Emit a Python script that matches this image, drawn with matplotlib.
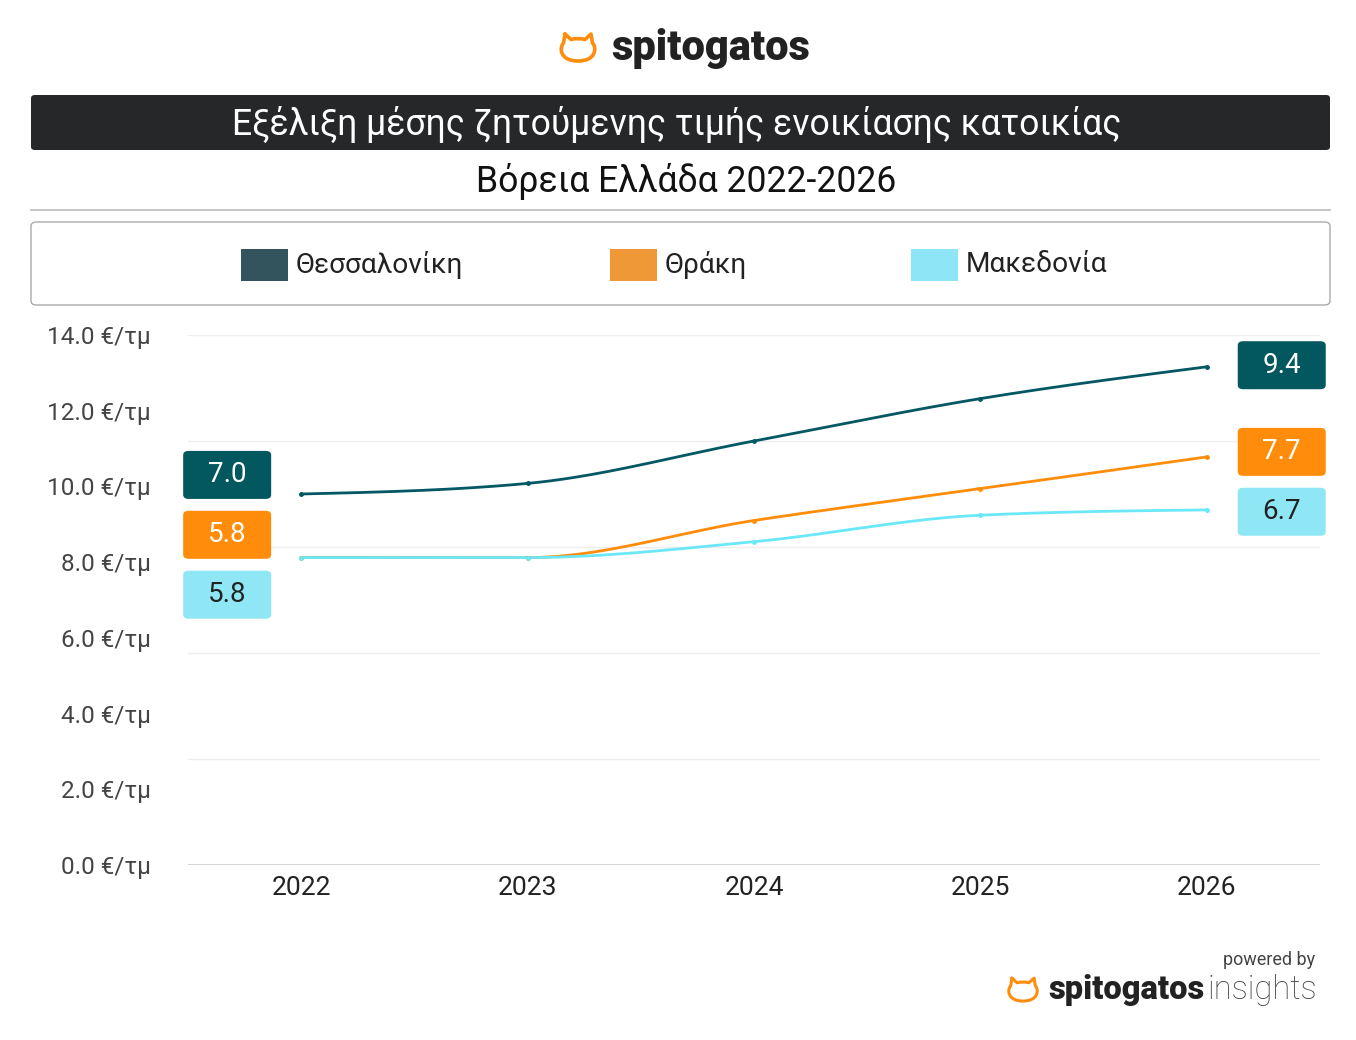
import numpy as np
import matplotlib
matplotlib.use("Agg")
import matplotlib.pyplot as plt
from matplotlib.patches import FancyBboxPatch, PathPatch, Rectangle
from matplotlib.path import Path
from matplotlib.lines import Line2D

# ---------------- data ----------------
years = ["2022", "2023", "2024", "2025", "2026"]
series_names = ["Θεσσαλονίκη", "Θράκη", "Μακεδονία"]
thessaloniki = [7.0, 7.2, 8.0, 8.8, 9.4]
thraki = [5.8, 5.8, 6.5, 7.1, 7.7]
makedonia = [5.8, 5.8, 6.1, 6.6, 6.7]
ytick_values = [0.0, 2.0, 4.0, 6.0, 8.0, 10.0, 12.0, 14.0]
grid_values = [0, 2, 4, 6, 8, 10]
title = "Εξέλιξη μέσης ζητούμενης τιμής ενοικίασης κατοικίας"
subtitle = "Βόρεια Ελλάδα 2022-2026"

line_colors = ["#035863", "#FF8C0A", "#6BE8F7"]
legend_colors = ["#33545D", "#EE9837", "#8EE5F5"]
box_colors = ["#03575F", "#FF8C0A", "#8FE6F5"]
box_text_colors = ["white", "white", "#222222"]

FONT = ["Roboto", "DejaVu Sans"]
plt.rcParams["font.family"] = FONT

W, H = 1356, 1040
fig = plt.figure(figsize=(W / 100, H / 100), dpi=100)
fig.patch.set_facecolor("white")


def fx(px):
    return px / W


def fy(py):
    return 1 - py / H


# ---------------- monotone cubic (d3 monotoneX style) ----------------
def monotone(x, y, n=40):
    x = np.asarray(x, float)
    y = np.asarray(y, float)
    m = len(x)
    h = np.diff(x)
    s = np.diff(y) / h
    t = np.zeros(m)
    for i in range(1, m - 1):
        p = (s[i - 1] * h[i] + s[i] * h[i - 1]) / (h[i - 1] + h[i])
        t[i] = (np.sign(s[i - 1]) + np.sign(s[i])) * min(abs(s[i - 1]), abs(s[i]), 0.5 * abs(p))
    t[0] = (3 * s[0] - t[1]) / 2
    t[-1] = (3 * s[-1] - t[-2]) / 2
    xs, ys = [], []
    for i in range(m - 1):
        u = np.linspace(0, 1, n)
        h00 = 2 * u**3 - 3 * u**2 + 1
        h10 = u**3 - 2 * u**2 + u
        h01 = -2 * u**3 + 3 * u**2
        h11 = u**3 - u**2
        xs.append(x[i] + u * h[i])
        ys.append(h00 * y[i] + h10 * h[i] * t[i] + h01 * y[i + 1] + h11 * h[i] * t[i + 1])
    return np.concatenate(xs), np.concatenate(ys)


# ---------------- axes ----------------
ax_l, ax_r, ax_t, ax_b = 188, 1320, 335, 865
ax = fig.add_axes([fx(ax_l), fy(ax_b), fx(ax_r - ax_l), (ax_b - ax_t) / H])
ax.set_xlim(-0.5, len(years) - 0.5)
ax.set_ylim(0, 10)
for sp in ax.spines.values():
    sp.set_visible(False)
for g in grid_values:
    ax.axhline(g, color="#cccccc" if g == 0 else "#eeeeee", lw=1.2 if g == 0 else 1.0, zorder=0)

ax.set_xticks(range(len(years)))
ax.set_xticklabels(years, fontsize=19, color="#222222")
ax.set_yticks(np.linspace(0, 10, len(ytick_values)))
ax.set_yticklabels([f"{v:.1f} €/τμ" for v in ytick_values], fontsize=17.5, color="#444444")
ax.tick_params(axis="both", length=0)
ax.tick_params(axis="y", pad=27)
ax.tick_params(axis="x", pad=8)

xi = np.arange(len(years))
all_series = [thessaloniki, thraki, makedonia]
for vals, c in zip(all_series, line_colors):
    sx, sy = monotone(xi, vals)
    ax.plot(sx, sy, color=c, lw=2.0, zorder=3, solid_capstyle="round")
    ax.plot(xi, vals, "o", color=c, ms=2.5, zorder=4)


# ---------------- value boxes (dodged) ----------------
def dodge(values, gap):
    order = sorted(range(len(values)), key=lambda i: -values[i])
    clusters = [[i] for i in order]
    pos = {i: values[i] for i in order}
    changed = True
    while changed:
        changed = False
        for k in range(len(clusters) - 1):
            a, b = clusters[k], clusters[k + 1]
            if pos[a[-1]] - pos[b[0]] < gap - 1e-9:
                merged = a + b
                mean = np.mean([values[i] for i in merged])
                n = len(merged)
                for j, idx in enumerate(merged):
                    pos[idx] = mean + gap * ((n - 1) / 2 - j)
                clusters[k:k + 2] = [merged]
                changed = True
                break
    return [pos[i] for i in range(len(values))]


fig.canvas.draw()
bw, bh = 88, 48
for end, xoff in [(0, -0.327), (len(years) - 1, 0.331)]:
    vals = [s[end] for s in all_series]
    ys = dodge(vals, 1.13)
    for k, (v, yy) in enumerate(zip(vals, ys)):
        dx, dy = ax.transData.transform((end + xoff, yy + 0.03))
        cx, cy = dx, H - dy
        fig.patches.append(FancyBboxPatch((fx(cx - bw / 2), fy(cy + bh / 2)), fx(bw), bh / H,
                                          boxstyle="round,pad=0,rounding_size=0.004",
                                          transform=fig.transFigure, fc=box_colors[k], ec="none",
                                          figure=fig, zorder=5))
        fig.text(fx(cx), fy(cy), f"{v:.1f}", ha="center", va="center", fontsize=20,
                 color=box_text_colors[k], zorder=6)

# ---------------- title block ----------------
fig.patches.append(FancyBboxPatch((fx(31), fy(150)), fx(1299), 55 / H,
                                  boxstyle="round,pad=0,rounding_size=0.003",
                                  transform=fig.transFigure, fc="#262729", ec="none", figure=fig))
fig.text(fx(677), fy(124), title, ha="center", va="center", fontsize=25.6, color="white")
fig.text(fx(686), fy(181), subtitle, ha="center", va="center", fontsize=25.6, color="#111111")
fig.lines.append(Line2D([fx(31), fx(1330)], [fy(210), fy(210)], transform=fig.transFigure,
                        color="#bbbbbb", lw=1.2, figure=fig))

# legend box
fig.patches.append(FancyBboxPatch((fx(31), fy(305)), fx(1299), 83 / H,
                                  boxstyle="round,pad=0,rounding_size=0.004",
                                  transform=fig.transFigure, fc="white", ec="#aaaaaa", lw=1.0,
                                  figure=fig))
for name, c, x0 in zip(series_names, legend_colors, [241, 610, 911]):
    fig.patches.append(Rectangle((fx(x0), fy(281)), fx(47), 32 / H, transform=fig.transFigure,
                                 fc=c, ec="none", figure=fig))
    fig.text(fx(x0 + 55), fy(265), name, ha="left", va="center", fontsize=20.2, color="#222222")


# ---------------- logos ----------------
def cat(cx, cy, s, lw):
    pts = [(-13, -14), (-7, -8.5), (0, -10.5), (7, -8.5), (13, -14),
           (14.5, -5), (19, 0), (18, 13), (0, 13), (-18, 13), (-19, 0), (-14.5, -5), (-13, -14)]
    codes = [Path.MOVETO, Path.LINETO, Path.CURVE3, Path.CURVE3, Path.LINETO,
             Path.LINETO, Path.CURVE4, Path.CURVE4, Path.CURVE4, Path.CURVE4, Path.CURVE4,
             Path.CURVE4, Path.LINETO]
    v = [(fx(cx + s * px), fy(cy + s * py)) for px, py in pts]
    fig.patches.append(PathPatch(Path(v, codes), transform=fig.transFigure, fc="none",
                                 ec="#FF8C0A", lw=lw, figure=fig, capstyle="round",
                                 joinstyle="round"))


cat(578, 48, 1.0, 2.6)
fig.text(fx(611), fy(48), "spitogatos", ha="left", va="center", fontsize=30, color="#222222",
         fontweight="black")

fig.text(fx(1315), fy(960), "powered by", ha="right", va="center", fontsize=13, color="#444444")
cat(1023, 990, 0.85, 2.2)
t1 = fig.text(fx(1048), fy(990), "spitogatos", ha="left", va="center", fontsize=23.5,
              color="#222222", fontweight="black")
fig.canvas.draw()
bb = t1.get_window_extent()
fig.text(bb.x1 / W + fx(3), fy(990), "insights", ha="left", va="center", fontsize=23.5,
         color="#444444", fontweight="light")

fig.savefig("out.png", dpi=100, facecolor="white")
